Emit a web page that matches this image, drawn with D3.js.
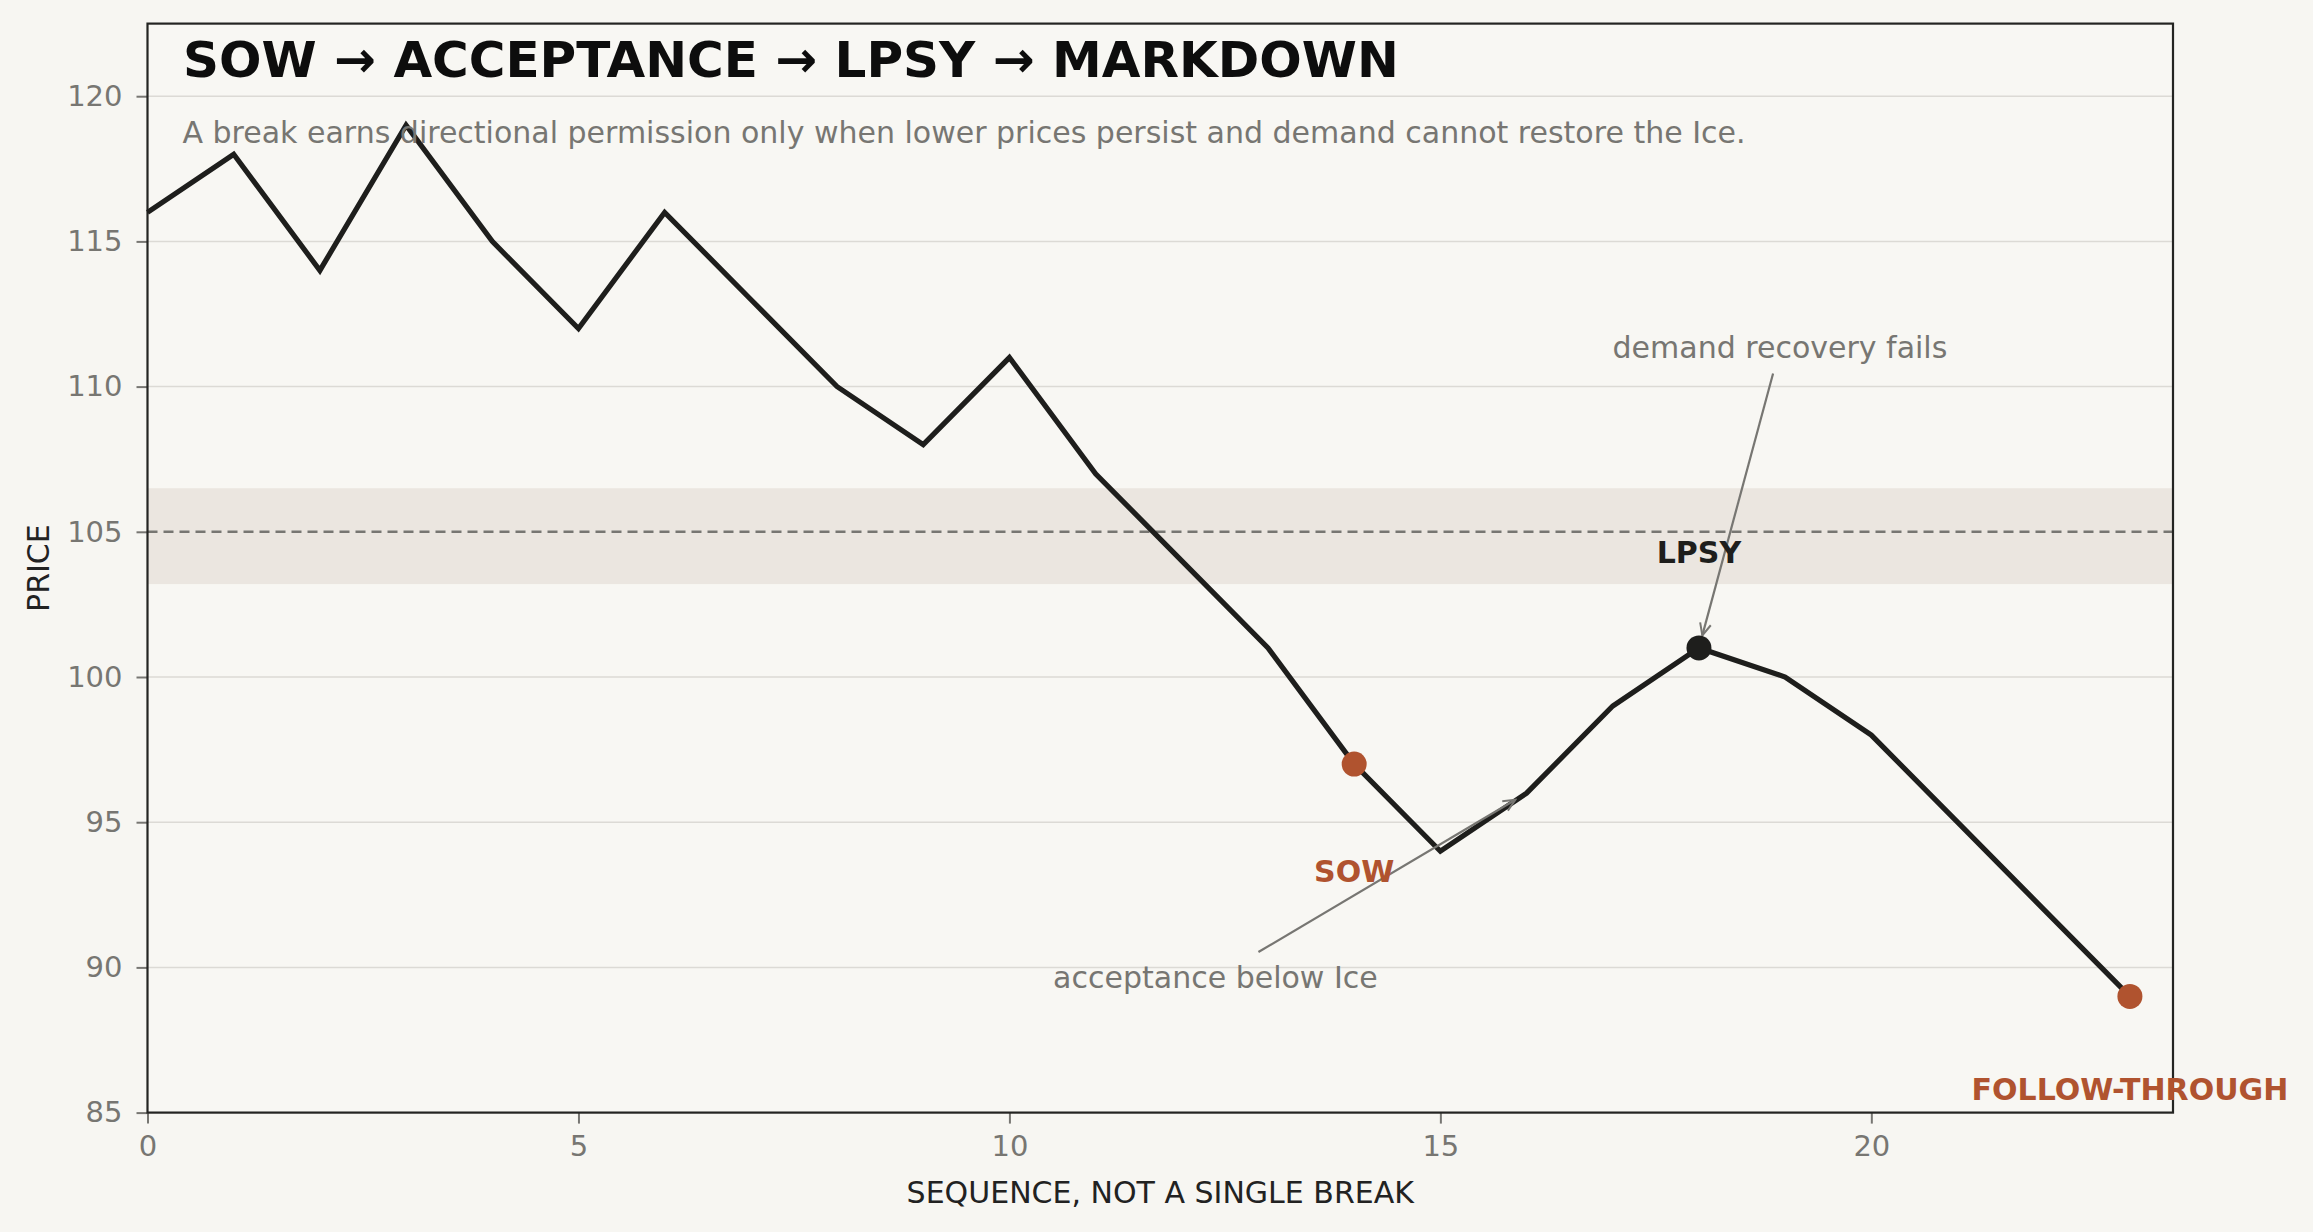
<!DOCTYPE html>
<html>
<head>
<meta charset="utf-8">
<script src="https://cdn.jsdelivr.net/npm/d3@7/dist/d3.min.js"></script>
<style>
  html, body { margin: 0; padding: 0; background: #f7f6f2; }
  svg { display: block; font-family: "DejaVu Sans", sans-serif; }
</style>
</head>
<body>
<svg id="chart" width="2313" height="1232"></svg>
<script>
// ---- data ----
const sequence = [0,1,2,3,4,5,6,7,8,9,10,11,12,13,14,15,16,17,18,19,20,21,22,23];
const price    = [116,118,114,119,115,112,116,113,110,108,111,107,104,101,97,94,96,99,101,100,98,95,92,89];
const xTicks = [0,5,10,15,20];
const yTicks = [85,90,95,100,105,110,115,120];
const iceLevel = 105;
const iceBand = [103.2, 106.5];
const keyPoints = [
  {x:14, y:97,  label:"SOW",            lx:14, ly:93.3, kind:"accent"},
  {x:18, y:101, label:"LPSY",           lx:18, ly:104.3, kind:"dark"},
  {x:23, y:89,  label:"FOLLOW-THROUGH", lx:23, ly:85.8, kind:"accent"}
];
const notes = [
  {text:"demand recovery fails", tx:18.94, ty:111.33, ax:18, ay:101},
  {text:"acceptance below Ice",  tx:12.39, ty:89.65,  ax:16, ay:96}
];
const titleText = "SOW \u2192 ACCEPTANCE \u2192 LPSY \u2192 MARKDOWN";
const subtitleText = "A break earns directional permission only when lower prices persist and demand cannot restore the Ice.";
const xLabel = "SEQUENCE, NOT A SINGLE BREAK";
const yLabel = "PRICE";

// ---- layout ----
const W = 2313, H = 1232;
const m = {left:147.5, right:140, top:23.6, bottom:119.4};
const accent = "#b0532f", dark = "#1e1e1c", muted = "#777672";

const svg = d3.select("#chart");
svg.append("rect").attr("width", W).attr("height", H).attr("fill", "#f7f6f2");

const x = d3.scaleLinear().domain([0, 23.5]).range([m.left, W - m.right]);
const y = d3.scaleLinear().domain([85, 122.5]).range([H - m.bottom, m.top]);

const defs = svg.append("defs");
defs.append("marker").attr("id","arrow").attr("viewBox","-14 -8 16 16")
  .attr("refX",0).attr("refY",0).attr("markerWidth",16).attr("markerHeight",16)
  .attr("markerUnits","userSpaceOnUse").attr("orient","auto")
  .append("path").attr("d","M-12,-5.5 L0,0 L-12,5.5").attr("fill","none")
  .attr("stroke", muted).attr("stroke-width",2);

// plot background
svg.append("rect").attr("x", x(0)).attr("y", y(122.5))
  .attr("width", x(23.5) - x(0)).attr("height", y(85) - y(122.5)).attr("fill", "#f8f7f3");

// grid
svg.append("g").selectAll("line").data(yTicks).join("line")
  .attr("x1", x(0)).attr("x2", x(23.5)).attr("y1", d => y(d)).attr("y2", d => y(d))
  .attr("stroke", "#dcdad5").attr("stroke-width", 1.5);

// ice band
svg.append("rect").attr("x", x(0)).attr("width", x(23.5) - x(0))
  .attr("y", y(iceBand[1])).attr("height", y(iceBand[0]) - y(iceBand[1]))
  .attr("fill", "#ebe6e0");
svg.append("line").attr("x1", x(0)).attr("x2", x(23.5))
  .attr("y1", y(iceLevel)).attr("y2", y(iceLevel))
  .attr("stroke", muted).attr("stroke-width", 2.5).attr("stroke-dasharray", "10,6");

// axes
const xAxis = svg.append("g").attr("transform", `translate(0,${H - m.bottom})`)
  .call(d3.axisBottom(x).tickValues(xTicks).tickSize(11).tickPadding(12).tickFormat(d3.format("d")));
const yAxis = svg.append("g").attr("transform", `translate(${m.left},0)`)
  .call(d3.axisLeft(y).tickValues(yTicks).tickSize(11).tickPadding(14).tickFormat(d3.format("d")));
[xAxis, yAxis].forEach(g => {
  g.select(".domain").remove();
  g.selectAll(".tick line").attr("stroke", muted).attr("stroke-width", 2);
  g.selectAll(".tick text").attr("fill", muted).style("font-size", "29px")
    .style("font-family", '"DejaVu Sans", sans-serif');
});

// frame
svg.append("rect").attr("x", x(0)).attr("y", y(122.5))
  .attr("width", x(23.5) - x(0)).attr("height", y(85) - y(122.5))
  .attr("fill", "none").attr("stroke", "#242422").attr("stroke-width", 2.2);

// line
const line = d3.line().x((d, i) => x(sequence[i])).y(d => y(d));
svg.append("path").datum(price).attr("d", line).attr("fill", "none")
  .attr("stroke", dark).attr("stroke-width", 5.2).attr("stroke-linejoin", "miter");

// annotations (arrows)
notes.forEach(n => {
  const t = svg.append("text").attr("x", x(n.tx)).attr("y", y(n.ty))
    .attr("text-anchor", "middle").attr("dominant-baseline", "central")
    .attr("fill", muted).style("font-size", "30px").text(n.text);
  const bb = t.node().getBBox();
  const px = x(n.ax), py = y(n.ay);
  const sx = x(n.tx), sy = y(n.ty);
  let startY = (py > bb.y + bb.height) ? bb.y + bb.height + 8 : bb.y - 8;
  const startX = sx + (px - sx) * ((startY - sy) / (py - sy));
  const len = Math.hypot(px - startX, py - startY);
  const shrink = 13;
  const ex = px - (px - startX) / len * shrink, ey = py - (py - startY) / len * shrink;
  svg.append("line").attr("x1", startX).attr("y1", startY).attr("x2", ex).attr("y2", ey)
    .attr("stroke", muted).attr("stroke-width", 2.2).attr("marker-end", "url(#arrow)");
});

// key points
svg.append("g").selectAll("circle").data(keyPoints).join("circle")
  .attr("cx", d => x(d.x)).attr("cy", d => y(d.y)).attr("r", 12.5)
  .attr("fill", d => d.kind === "accent" ? "#b0532f" : "#1e1e1c");
svg.append("g").selectAll("text").data(keyPoints).join("text")
  .attr("x", d => x(d.lx)).attr("y", d => y(d.ly))
  .attr("text-anchor", "middle").attr("dominant-baseline", "central")
  .attr("fill", d => d.kind === "accent" ? accent : dark)
  .style("font-size", "30px").style("font-weight", "bold").text(d => d.label);

// title & subtitle
svg.append("text").attr("x", 183).attr("y", 77).attr("fill", "#0d0d0d")
  .style("font-size", "50px").style("font-weight", "bold").text(titleText);
svg.append("text").attr("x", 182.5).attr("y", 142.5).attr("fill", muted)
  .style("font-size", "30px").text(subtitleText);

// axis labels
svg.append("text").attr("x", (x(0) + x(23.5)) / 2).attr("y", 1202.5)
  .attr("text-anchor", "middle").attr("fill", "#222").style("font-size", "30px").text(xLabel);
svg.append("text").attr("transform", `translate(49,${(y(85) + y(122.5)) / 2}) rotate(-90)`)
  .attr("text-anchor", "middle").attr("fill", "#222").style("font-size", "30px").text(yLabel);
</script>
</body>
</html>
